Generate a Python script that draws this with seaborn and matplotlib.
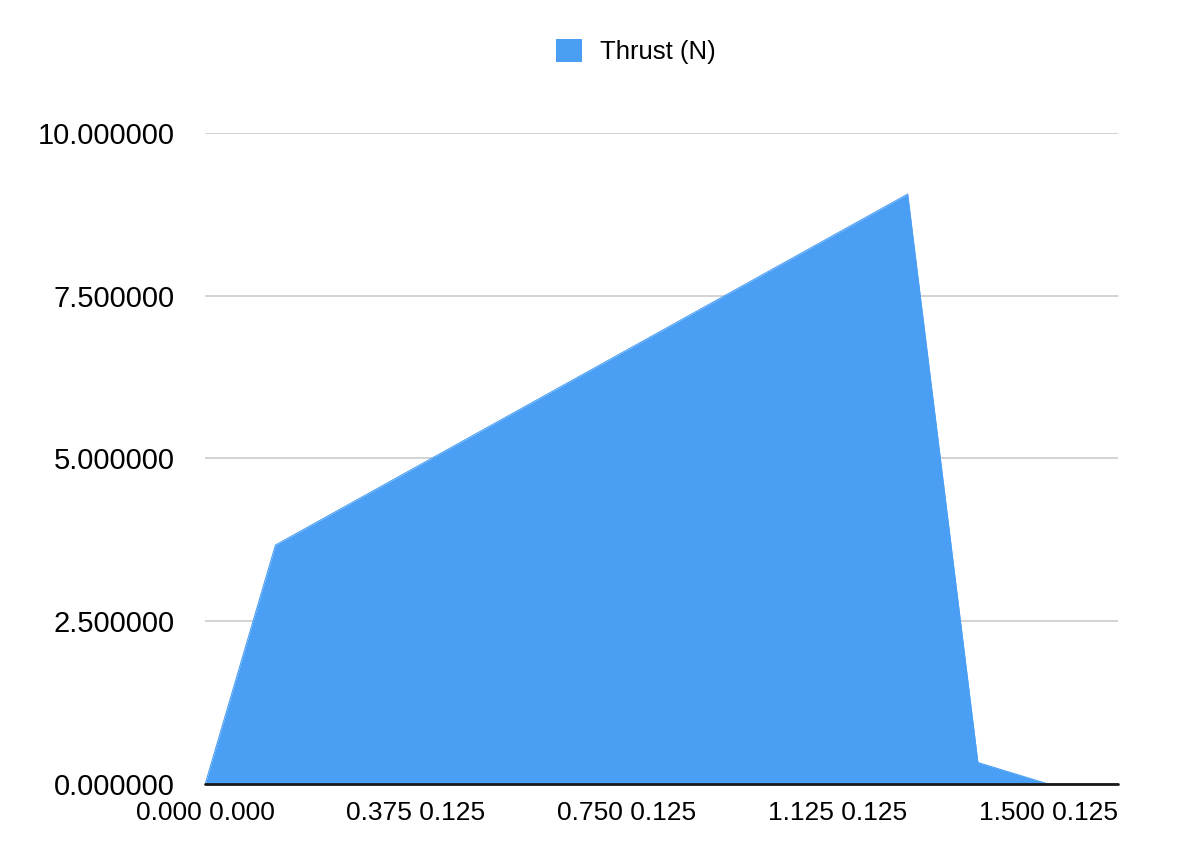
import matplotlib
matplotlib.use("Agg")
import matplotlib.pyplot as plt
import seaborn as sns
import pandas as pd
from matplotlib.patches import Patch

# time (s) and thrust (N)
time_s = [0.0, 0.125, 1.25, 1.375, 1.5, 1.625]
thrust_n = [0.0, 3.67, 9.06, 0.33, 0.0, 0.0]

x_ticks = [0.0, 0.375, 0.75, 1.125, 1.5]
x_tick_labels = ["0.000 0.000", "0.375 0.125", "0.750 0.125",
                 "1.125 0.125", "1.500 0.125"]
y_ticks = [0.0, 2.5, 5.0, 7.5, 10.0]
series_name = "Thrust (N)"

blue = "#4a9ff5"

sns.set_theme(style="white")
plt.rcParams["font.family"] = ["Liberation Sans", "DejaVu Sans"]

df = pd.DataFrame({"time": time_s, "thrust": thrust_n})

fig = plt.figure(figsize=(12, 8.63), dpi=100)
ax = fig.add_axes([0.171, 0.0915, 0.761, 0.7545])

for y in y_ticks[1:]:
    ax.axhline(y, color="#cccccc", lw=1.2, zorder=0)

sns.lineplot(data=df, x="time", y="thrust", color=blue, lw=0.8, ax=ax,
             zorder=2)
ax.fill_between(df["time"], 0, df["thrust"], color=blue, lw=0, zorder=2)
ax.axhline(0, color="#1a1a1a", lw=2.0, zorder=3, clip_on=False)

ax.set_xlim(0, 1.625)
ax.set_ylim(0, 10)
ax.set_xticks(x_ticks)
ax.set_xticklabels(x_tick_labels, fontsize=19)
ax.set_yticks(y_ticks)
ax.set_yticklabels(["{:.6f}".format(v) for v in y_ticks], fontsize=21)
ax.tick_params(axis="both", length=0, colors="#000000")
ax.tick_params(axis="x", pad=12)
ax.tick_params(axis="y", pad=22)
ax.set_xlabel("")
ax.set_ylabel("")
for s in ax.spines.values():
    s.set_visible(False)

handle = Patch(facecolor=blue, edgecolor="none")
fig.legend([handle], [series_name], loc="center", ncol=1,
           bbox_to_anchor=(0.53, 0.94), frameon=False, fontsize=18.5,
           handlelength=1.0, handleheight=1.0, handletextpad=0.7,
           labelcolor="#000000")

fig.savefig("out.png", dpi=100)
